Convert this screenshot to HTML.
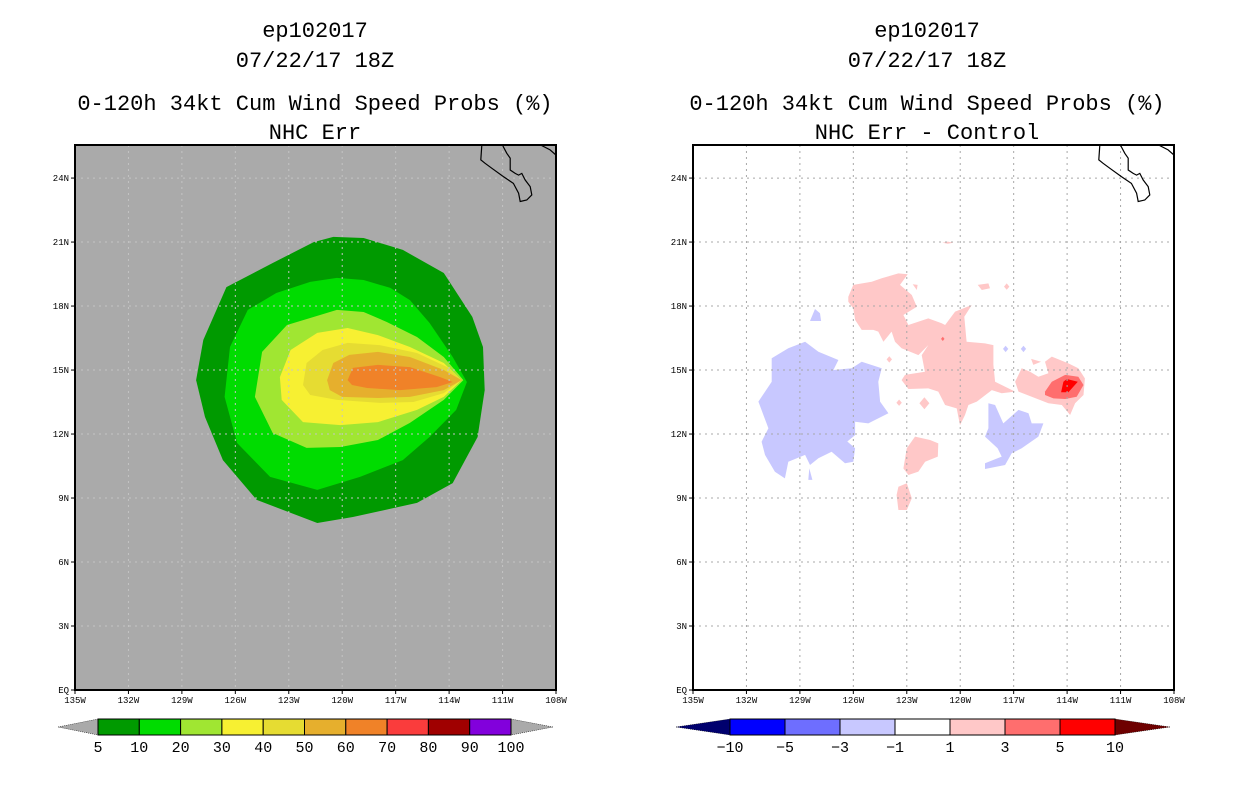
<!DOCTYPE html>
<html><head><meta charset="utf-8"><style>
body{margin:0;background:#fff;}
svg{display:block;font-family:"Liberation Sans",sans-serif;}
.t{font-size:22px;text-anchor:middle;fill:#000;font-family:"Liberation Mono",monospace;}
.tk{font-size:9px;fill:#000;font-family:"Liberation Mono","Liberation Sans",monospace;}
.cb{font-size:15px;text-anchor:middle;fill:#000;font-family:"Liberation Mono",monospace;}
</style></head><body>
<svg id="c" width="1236" height="800" xmlns="http://www.w3.org/2000/svg"></svg>
<script>
const lonTicks=[-135,-132,-129,-126,-123,-120,-117,-114,-111,-108];
const lonLabels=["135W","132W","129W","126W","123W","120W","117W","114W","111W","108W"];
const latTicks=[0,3,6,9,12,15,18,21,24];
const latLabels=["EQ","3N","6N","9N","12N","15N","18N","21N","24N"];
const leftLevels=[5,10,20,30,40,50,60];
const leftColors=["#009a00","#00dc00","#a0e632","#f7f032","#e6dc32","#e6af2d","#f08228"];
const p5=[[-121.4,7.83],[-124.8,8.91],[-126.7,10.78],[-127.7,12.8],[-128.2,14.53],[-127.8,16.41],[-126.5,18.89],[-123.9,20.02],[-121.6,21.0],[-120.5,21.24],[-118.8,21.19],[-116.6,20.63],[-114.3,19.55],[-112.7,17.49],[-112.1,16.08],[-112.0,14.06],[-112.4,11.86],[-113.8,9.7],[-115.8,8.77],[-119.4,8.11]];
const p10=[[-121.4,9.38],[-124.05,9.99],[-125.9,11.58],[-126.6,13.74],[-126.3,16.08],[-125.3,17.82],[-123.7,18.61],[-121.8,19.13],[-120.3,19.32],[-118.8,19.22],[-117.3,18.85],[-116.2,18.28],[-115.1,17.21],[-113.8,15.61],[-113.0,14.44],[-113.6,13.13],[-115.1,11.86],[-116.6,10.78],[-119.0,9.99]];
const p20=[[-122.0,11.35],[-123.9,12.05],[-124.9,13.74],[-124.5,15.85],[-123.1,17.11],[-121.8,17.44],[-120.3,17.82],[-118.8,17.72],[-117.5,17.25],[-115.8,16.55],[-114.3,15.61],[-113.2,14.53],[-114.3,13.6],[-116.2,12.52],[-118.0,11.72],[-120.1,11.39]];
const p30=[[-122.2,12.56],[-123.4,13.6],[-123.5,14.67],[-122.9,15.94],[-121.4,16.74],[-119.7,16.97],[-118.0,16.64],[-116.2,16.08],[-114.3,15.33],[-113.3,14.53],[-114.3,13.74],[-115.8,13.13],[-118.0,12.56],[-120.1,12.42]];
const p40=[[-122.2,14.3],[-122.0,15.33],[-121.1,15.94],[-119.7,16.27],[-117.9,16.17],[-115.8,15.8],[-114.1,15.14],[-113.3,14.53],[-114.3,13.92],[-116.0,13.5],[-117.9,13.46],[-120.3,13.6],[-121.8,13.83]];
const p50=[[-120.85,14.53],[-120.5,15.33],[-119.6,15.71],[-118.0,15.85],[-116.2,15.61],[-114.3,15.0],[-113.3,14.53],[-114.3,14.06],[-116.2,13.74],[-118.0,13.69],[-120.0,13.74],[-120.7,14.06]];
const p60=[[-119.7,14.53],[-119.4,15.1],[-118.0,15.24],[-116.2,15.14],[-114.5,14.67],[-113.8,14.44],[-114.7,14.2],[-116.75,14.06],[-118.6,14.16],[-119.45,14.3]];
const leftPolys=[p5,p10,p20,p30,p40,p50,p60];
const blueBig=[[-131.33,13.52],[-130.58,14.45],[-130.58,15.55],[-129.65,16.02],[-128.71,16.33],[-127.96,15.86],[-126.84,15.47],[-127.12,15.0],[-126.09,15.08],[-125.53,15.39],[-124.41,15.08],[-124.6,14.45],[-124.5,13.52],[-124.03,12.97],[-125.16,12.5],[-125.9,12.58],[-125.9,11.95],[-126.47,11.56],[-126.75,11.95],[-125.9,11.33],[-126.0,10.7],[-126.47,10.63],[-127.22,11.17],[-127.96,10.86],[-128.43,10.55],[-128.71,11.02],[-129.65,10.7],[-129.84,9.92],[-130.4,10.23],[-130.96,11.02],[-131.15,11.64],[-130.77,12.27],[-131.05,12.89]];
const blueSmall1=[[-128.43,17.3],[-128.15,17.86],[-127.87,17.66],[-127.81,17.3]];
const blueSpike=[[-128.53,9.85],[-128.47,10.39],[-128.3,9.85]];
const blueRight=[[-118.42,13.44],[-118.04,13.36],[-117.58,12.5],[-116.73,13.13],[-116.17,12.97],[-115.99,12.5],[-115.33,12.5],[-115.61,11.88],[-116.55,11.33],[-117.11,11.1],[-117.48,10.55],[-118.61,10.36],[-118.61,10.63],[-117.67,10.94],[-117.9,11.33],[-118.61,11.88],[-118.42,12.27]];
const blueDots=[[-117.45,15.99],[-116.45,15.99]];
const pinkMain=[[-126.28,18.44],[-126.0,18.99],[-124.97,19.14],[-124.41,19.3],[-123.47,19.53],[-122.95,19.49],[-123.38,18.99],[-122.72,18.52],[-122.44,17.97],[-123.19,17.58],[-122.91,17.11],[-121.79,17.42],[-121.04,17.19],[-120.85,17.11],[-120.29,17.74],[-119.35,18.05],[-119.77,17.5],[-119.64,16.33],[-118.61,16.25],[-118.14,16.17],[-118.14,15.24],[-118.04,14.45],[-116.92,13.99],[-117.67,13.91],[-118.23,14.06],[-119.07,13.52],[-119.54,13.36],[-119.73,12.89],[-120.01,12.42],[-120.2,13.2],[-120.85,13.36],[-121.23,13.99],[-121.79,14.14],[-122.91,14.11],[-123.29,14.53],[-123.1,14.77],[-121.98,14.92],[-122.16,15.7],[-121.79,16.17],[-122.35,15.7],[-123.29,16.02],[-123.66,16.33],[-123.85,16.8],[-124.31,16.33],[-124.6,16.8],[-124.88,16.88],[-125.53,16.88],[-125.9,17.35],[-126.0,17.89],[-126.28,18.2]];
const pinkRight=[[-116.92,14.45],[-116.55,15.08],[-116.08,14.92],[-115.61,14.69],[-115.05,14.85],[-115.24,15.39],[-114.86,15.63],[-113.93,15.31],[-113.37,15.08],[-113.0,14.61],[-113.08,13.83],[-113.55,13.44],[-113.83,12.89],[-114.3,13.36],[-115.05,13.44],[-115.99,13.75],[-116.73,13.99]];
const pinkTri=[[-116.02,15.52],[-115.46,15.39],[-115.9,15.24]];
const pinkLow=[[-123.19,10.39],[-123.0,11.33],[-122.54,11.88],[-121.69,11.72],[-121.23,11.56],[-121.26,10.94],[-121.97,10.7],[-122.35,10.24],[-122.91,10.08]];
const pinkBottom=[[-123.57,9.14],[-123.47,9.53],[-123.0,9.69],[-122.72,8.99],[-123.0,8.44],[-123.47,8.44]];
const pinkSmall1=[[-122.67,19.02],[-122.39,18.99],[-122.44,18.75]];
const pinkSmall2=[[-119.02,18.99],[-118.42,19.06],[-118.33,18.83],[-118.79,18.75]];
const pinkTop=[[-121.0,20.97],[-120.7,21.02],[-120.4,20.97],[-120.7,20.92]];
const pinkDots=[[-117.39,18.91],[-123.98,15.5],[-123.43,13.47],[-122.01,13.44]];
const redMid=[[-115.24,13.99],[-114.86,14.45],[-114.11,14.77],[-113.37,14.69],[-113.08,14.3],[-113.46,13.75],[-114.11,13.64],[-114.77,13.67],[-115.24,13.83]];
const redHigh=[[-114.34,13.96],[-114.21,14.45],[-114.02,14.58],[-113.4,14.45],[-113.65,14.22],[-113.93,13.96]];
const redDot=[[-120.98,16.46]];
const bajaCoast=[[-112.16,25.6],[-112.22,24.85],[-111.98,24.69],[-111.6,24.46],[-110.95,24.07],[-110.39,23.75],[-110.1,23.29],[-110.01,22.9],[-109.64,22.97],[-109.36,23.21],[-109.45,23.6],[-109.73,23.91],[-109.92,24.22],[-110.1,24.14],[-110.29,24.22],[-110.57,24.38],[-110.57,24.93],[-110.76,25.16],[-111.04,25.6]];
const mainCoast=[[-108.98,25.6],[-108.33,25.32],[-107.9,25.0]];
const leftBarLabels=["5","10","20","30","40","50","60","70","80","90","100"];
const leftBarColors=["#009a00","#00dc00","#a0e632","#f7f032","#e6dc32","#e6af2d","#f08228","#fa3c3c","#a00000","#8200dc"];
const rightBarLabels=["-10","-5","-3","-1","1","3","5","10"];
const rightBarColors=["#0000ff","#6e6eff","#c8c8ff","#ffffff","#ffc8c8","#ff6e6e","#ff0000"];

const NS="http://www.w3.org/2000/svg";
const svg=document.getElementById('c');
function mk(tag,attrs,parent){const e=document.createElementNS(NS,tag);for(const k in attrs)e.setAttribute(k,attrs[k]);(parent||svg).appendChild(e);return e;}
const LAT_MAX=25.55;
function panel(x0){
  const W=481,H=545,y0=145;
  const sx=lon=>x0+(lon+135)/27*W;
  const sy=lat=>y0+H-lat/LAT_MAX*H;
  return {x0,y0,W,H,sx,sy};
}
function pts(P,arr){return arr.map(p=>P.sx(p[0]).toFixed(1)+','+P.sy(p[1]).toFixed(1)).join(' ');}
function titles(cx,line4){
  const lines=[["ep102017",37],["07/22/17 18Z",67],["0-120h 34kt Cum Wind Speed Probs (%)",110],[line4,139]];
  lines.forEach((l,i)=>{const t=mk('text',{x:cx,y:l[1],class:'t'});t.textContent=l[0];
  
  });
}
function axes(P,gridColor,g){
  lonTicks.forEach((lon,i)=>{
    const x=P.sx(lon);
    if(i>0&&i<lonTicks.length-1){const l=mk('line',{x1:x,y1:P.y0,x2:x,y2:P.y0+P.H,stroke:gridColor,'stroke-width':1,'stroke-dasharray':'2,4'},g);
    
    }
    mk('line',{x1:x,y1:P.y0+P.H,x2:x,y2:P.y0+P.H+4,stroke:'#000'});
    const t=mk('text',{x:x,y:P.y0+P.H+13,class:'tk','text-anchor':'middle'});t.textContent=lonLabels[i];
    
    
  });
  latTicks.forEach((lat,i)=>{
    const y=P.sy(lat);
    if(i>0){const l=mk('line',{x1:P.x0,y1:y,x2:P.x0+P.W,y2:y,stroke:gridColor,'stroke-width':1,'stroke-dasharray':'2,4'},g);
    
    }
    mk('line',{x1:P.x0-4,y1:y,x2:P.x0,y2:y,stroke:'#000'});
    const t=mk('text',{x:P.x0-6,y:y+3,class:'tk','text-anchor':'end'});t.textContent=latLabels[i];
    
    
  });
}
function coast(P,g){
  [bajaCoast,mainCoast].forEach(c=>{const l=mk('polyline',{points:pts(P,c),fill:'none',stroke:'#000','stroke-width':1.2},g);
  
  });
}
function clip(P,id){const cp=mk('clipPath',{id:id});mk('rect',{x:P.x0,y:P.y0,width:P.W,height:P.H},cp);const g=mk('g',{'clip-path':'url(#'+id+')'});return g;}

const L=panel(75);
titles(315,"NHC Err");
const gl=clip(L,'cl');


mk('rect',{x:L.x0,y:L.y0,width:L.W,height:L.H,fill:'#aaaaaa'},gl);
leftPolys.forEach((poly,i)=>{const p=mk('polygon',{points:pts(L,poly),fill:leftColors[i]},gl);

});
axes(L,'#c4c4c4',gl);
coast(L,gl);
mk('rect',{x:L.x0,y:L.y0,width:L.W,height:L.H,fill:'none',stroke:'#000','stroke-width':2});

const R=panel(693);
titles(927,"NHC Err - Control");
const gr=clip(R,'cr');


mk('rect',{x:R.x0,y:R.y0,width:R.W,height:R.H,fill:'#ffffff'},gr);
function region(arr,color,name){const p=mk('polygon',{points:pts(R,arr),fill:color},gr);

}
[blueBig,blueSmall1,blueSpike,blueRight].forEach(a=>region(a,'#c8c8ff','diff-region-neg'));
[pinkMain,pinkRight,pinkTri,pinkLow,pinkBottom,pinkSmall1,pinkSmall2,pinkTop].forEach(a=>region(a,'#ffc8c8','diff-region-pos'));
function dot(c,color,r,name){const d=[[c[0]-r,c[1]],[c[0],c[1]+r],[c[0]+r,c[1]],[c[0],c[1]-r]];region(d,color,name);}
blueDots.forEach(c=>dot(c,'#c8c8ff',0.15,'diff-spot-neg'));
pinkDots.forEach((c,i)=>dot(c,'#ffc8c8',i==3?0.28:0.15,'diff-spot-pos'));
region(redMid,'#ff6e6e','diff-region-3to5');
region(redHigh,'#ff0000','diff-region-5to10');
redDot.forEach(c=>dot(c,'#ff6e6e',0.1,'diff-spot-3to5'));
axes(R,'#a8a8a8',gr);
coast(R,gr);
mk('rect',{x:R.x0,y:R.y0,width:R.W,height:R.H,fill:'none',stroke:'#000','stroke-width':2});

function colorbar(x0,x1,colors,labels,leftTip,rightTip,name,tipL,tipR){
  const g=mk('g',{});
  
  
  const y0=719,y1=735,ym=727,n=colors.length,w=(x1-x0)/n;
  mk('polygon',{points:`${tipL},${ym} ${x0},${y0} ${x0},${y1}`,fill:leftTip,stroke:'#000','stroke-width':0.5,'stroke-dasharray':'1,1'},g);
  mk('polygon',{points:`${tipR},${ym} ${x1},${y0} ${x1},${y1}`,fill:rightTip,stroke:'#000','stroke-width':0.5,'stroke-dasharray':'1,1'},g);
  colors.forEach((c,i)=>{const r=mk('rect',{x:x0+i*w,y:y0,width:w,height:y1-y0,fill:c,stroke:'#000','stroke-width':1},g);
  
  });
  labels.forEach((l,i)=>{const t=mk('text',{x:x0+i*w,y:752,class:'cb'},g);t.textContent=l.replace('-','\u2212');
  
  });
}
colorbar(98,511,leftBarColors,leftBarLabels,'#aaaaaa','#aaaaaa','left-colorbar',58,553);
colorbar(730,1115,rightBarColors,rightBarLabels,'#00006e','#6e0000','right-colorbar',676,1170);
</script>
</body></html>
